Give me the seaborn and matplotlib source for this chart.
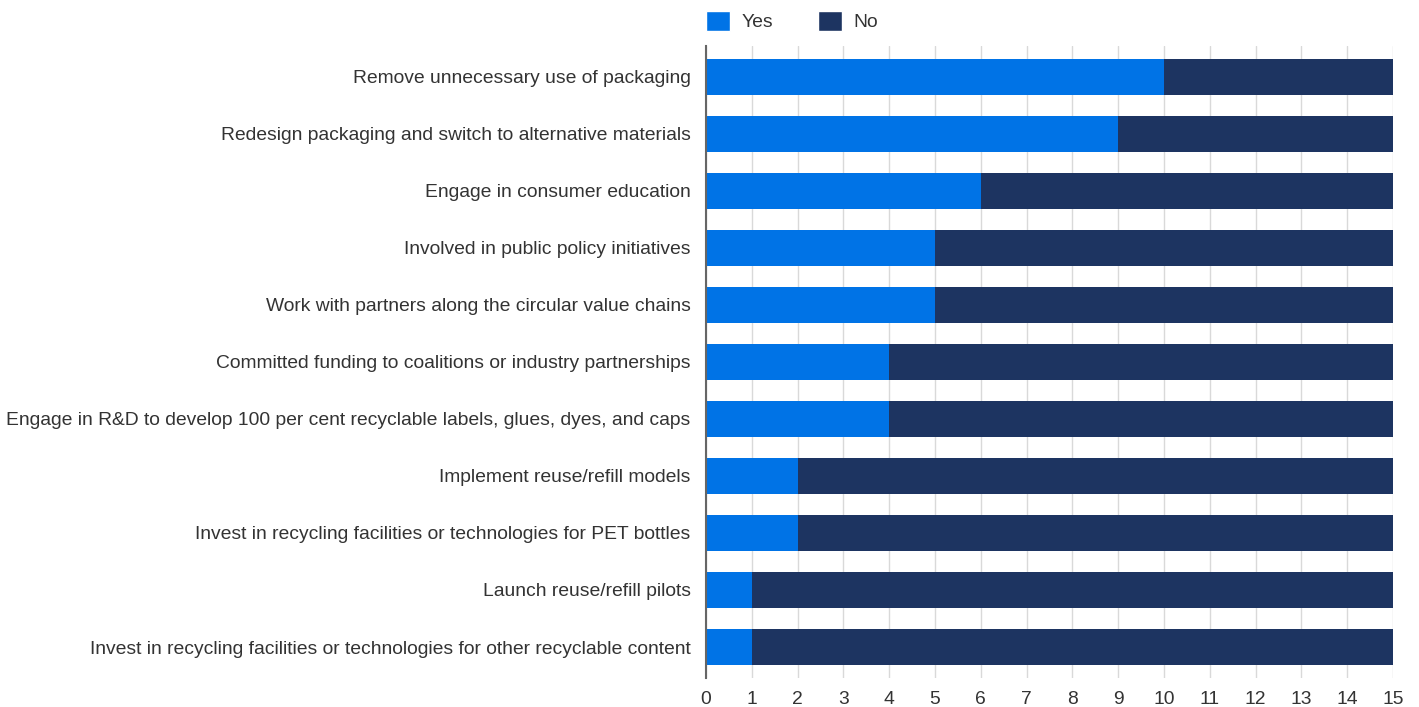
import matplotlib
matplotlib.use("Agg")
import matplotlib.pyplot as plt
from matplotlib.patches import Patch
import seaborn as sns
import pandas as pd

categories = [
    "Remove unnecessary use of packaging",
    "Redesign packaging and switch to alternative materials",
    "Engage in consumer education",
    "Involved in public policy initiatives",
    "Work with partners along the circular value chains",
    "Committed funding to coalitions or industry partnerships",
    "Engage in R&D to develop 100 per cent recyclable labels, glues, dyes, and caps",
    "Implement reuse/refill models",
    "Invest in recycling facilities or technologies for PET bottles",
    "Launch reuse/refill pilots",
    "Invest in recycling facilities or technologies for other recyclable content",
]
yes_counts = [10, 9, 6, 5, 5, 4, 4, 2, 2, 1, 1]
no_counts = [5, 6, 9, 10, 10, 11, 11, 13, 13, 14, 14]
x_ticks = list(range(0, 16))

YES_COLOR = "#0073E6"
NO_COLOR = "#1D3461"
TEXT_COLOR = "#333333"
FONT_SIZE = 13.9

df = pd.DataFrame({"category": categories, "Yes": yes_counts, "No": no_counts})
df["total"] = df["Yes"] + df["No"]

sns.set_theme(style="white")
plt.rcParams["font.family"] = ["Liberation Sans", "DejaVu Sans"]

fig = plt.figure(figsize=(14.19, 7.07), dpi=100)
ax = fig.add_axes([0.4975, 0.041, 0.4842, 0.894])

# stacked bars: full total in the "No" colour, "Yes" drawn over it from zero
sns.barplot(data=df, y="category", x="total", color=NO_COLOR, width=0.63,
            orient="h", ax=ax, saturation=1, linewidth=0, zorder=3)
sns.barplot(data=df, y="category", x="Yes", color=YES_COLOR, width=0.63,
            orient="h", ax=ax, saturation=1, linewidth=0, zorder=4)

ax.set_xlim(0, 15)
ax.set_ylim(len(categories) - 1 + 0.544, -0.544)
ax.set_xticks(x_ticks)
ax.set_xticklabels([str(t) for t in x_ticks])
ax.set_xlabel("")
ax.set_ylabel("")

ax.grid(axis="x", color="#d9d9d9", linewidth=1, zorder=0)
ax.grid(axis="y", visible=False)
for side in ["top", "right", "bottom"]:
    ax.spines[side].set_visible(False)
ax.spines["left"].set_color("#666666")
ax.spines["left"].set_linewidth(1.5)
ax.spines["left"].set_zorder(5)

ax.tick_params(axis="both", length=0, labelsize=FONT_SIZE, colors=TEXT_COLOR)
ax.tick_params(axis="x", pad=9)
ax.tick_params(axis="y", pad=11)

handles = [Patch(facecolor=YES_COLOR, label="Yes"), Patch(facecolor=NO_COLOR, label="No")]
fig.legend(handles=handles, loc="upper left", bbox_to_anchor=(0.4975, 0.985),
           ncol=2, frameon=False, fontsize=FONT_SIZE, handlelength=1.25,
           handleheight=1.25, handletextpad=0.6, columnspacing=2.3,
           borderpad=0, borderaxespad=0, labelcolor=TEXT_COLOR)

fig.savefig("out.png", dpi=100)
